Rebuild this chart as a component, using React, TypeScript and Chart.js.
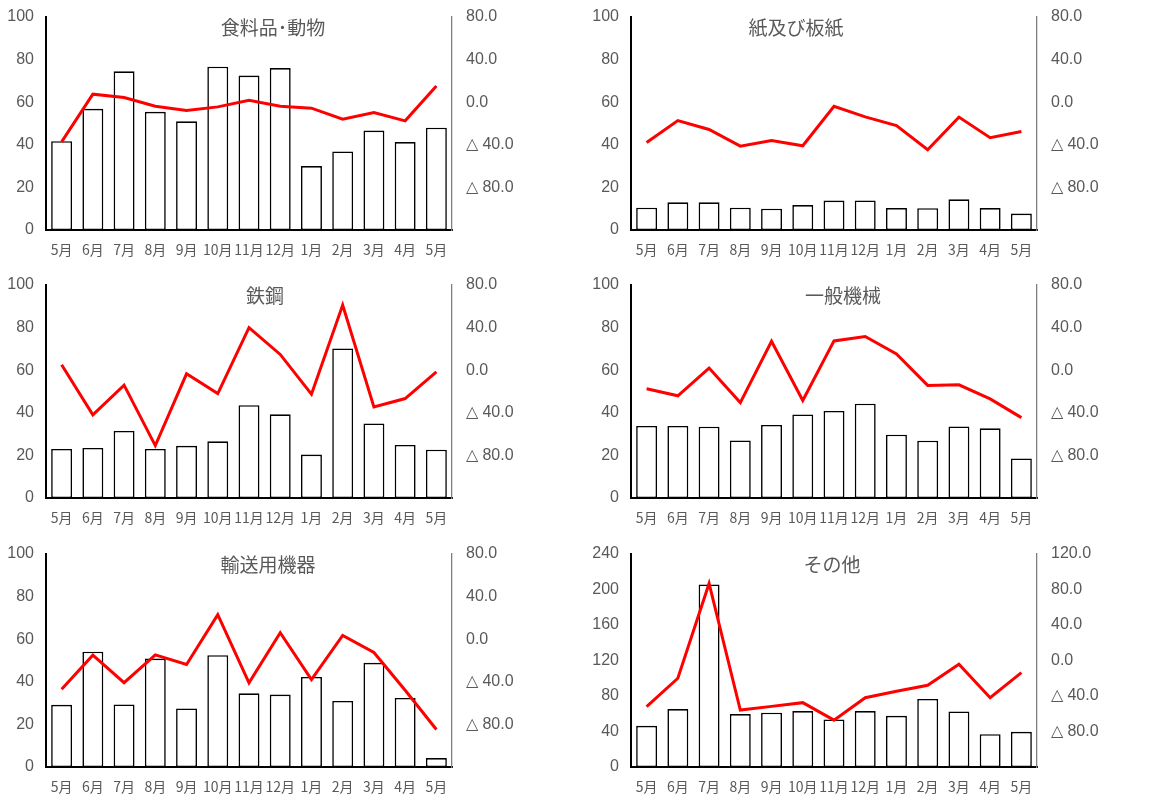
import React, { useEffect, useRef } from "react";
import { Chart, registerables } from "chart.js";

Chart.register(...registerables);

const months = ["5月", "6月", "7月", "8月", "9月", "10月", "11月", "12月", "1月", "2月", "3月", "4月", "5月"];

const foodBars = [41.7, 56.9, 74.5, 55.5, 51, 76.7, 72.5, 76, 30, 36.9, 46.7, 41.3, 48];
const foodLine = [-37.2, 7.5, 4.4, -3.8, -7.8, -4.4, 1.9, -3.8, -5.6, -16, -9.7, -17.5, 15.3];

const paperBars = [10.5, 13, 13, 10.5, 10, 11.7, 13.8, 13.9, 10.3, 10.2, 14.4, 10.3, 7.7];
const paperLine = [-37.8, -17.2, -25.6, -41.3, -35.9, -40.9, -3.8, -13.8, -21.9, -44.7, -14, -33.4, -27.5];

const steelBars = [23, 23.5, 31.5, 23, 24.5, 26.6, 43.6, 39.3, 20.4, 70.2, 35, 24.9, 22.7];
const steelLine = [5.1, -41.9, -14, -70.8, -3.4, -21.9, 39.9, 14.8, -22.5, 61.2, -34.4, -26.6, -1.5];

const machineBars = [33.8, 33.8, 33.5, 27, 34.3, 39.2, 40.9, 44.3, 29.7, 26.9, 33.6, 32.7, 18.6];
const machineLine = [-17.5, -24, 2, -30.4, 27.2, -28.5, 27.5, 31.6, 15.2, -14.3, -13.7, -26.9, -44.5];

const transportBars = [29.2, 54.1, 29.4, 50.9, 27.5, 52.5, 34.6, 34, 42.3, 31, 48.9, 32.4, 4.2];
const transportLine = [-47, -15, -40.8, -14.7, -23.8, 23.1, -41, 6.1, -37.9, 3.6, -12.5, -48, -84.8];

const otherBars = [46.4, 65.3, 205.7, 59.6, 61.1, 63, 53.6, 63, 57.7, 76.6, 62.6, 37, 39.6];
const otherLine = [-52, -20, 86.8, -55.8, -51.7, -47.5, -67.2, -41.9, -34.7, -27.9, -4.2, -41.9, -13.6];

const titles = ["食料品･動物", "紙及び板紙", "鉄鋼", "一般機械", "輸送用機器", "その他"];

type PanelDef = {
  title: string;
  bars: number[];
  line: number[];
  leftMax: number;
  leftStep: number;
  rightMax: number;
  titleX: number;
  left: number;
  top: number;
};

const panels: PanelDef[] = [
  { title: titles[0], bars: foodBars, line: foodLine, leftMax: 100, leftStep: 20, rightMax: 80, titleX: 273, left: 0, top: 0 },
  { title: titles[1], bars: paperBars, line: paperLine, leftMax: 100, leftStep: 20, rightMax: 80, titleX: 211, left: 585, top: 0 },
  { title: titles[2], bars: steelBars, line: steelLine, leftMax: 100, leftStep: 20, rightMax: 80, titleX: 265, left: 0, top: 268 },
  { title: titles[3], bars: machineBars, line: machineLine, leftMax: 100, leftStep: 20, rightMax: 80, titleX: 258, left: 585, top: 268 },
  { title: titles[4], bars: transportBars, line: transportLine, leftMax: 100, leftStep: 20, rightMax: 80, titleX: 268, left: 0, top: 537 },
  { title: titles[5], bars: otherBars, line: otherLine, leftMax: 240, leftStep: 40, rightMax: 120, titleX: 247, left: 585, top: 537 },
];

const W = 581;
const H = 261;
const GRAY = "#595959";
const NUM_FONT = "'Liberation Sans Narrow', 'Liberation Sans', Arial, sans-serif";
const CJK_FONT = "'Noto Sans CJK JP', 'Noto Sans', sans-serif";

function Panel({ def }: { def: PanelDef }) {
  const ref = useRef<HTMLCanvasElement>(null);
  useEffect(() => {
    if (!ref.current) return;
    const titlePlugin = {
      id: "panelTitle",
      afterDraw(chart: any) {
        const ctx = chart.ctx;
        ctx.save();
        ctx.font = `19px ${CJK_FONT}`;
        ctx.fillStyle = GRAY;
        ctx.textAlign = "center";
        ctx.textBaseline = "middle";
        ctx.fillText(def.title, def.titleX, chart.chartArea.top + 11);
        ctx.restore();
      },
    };
    const chart = new Chart(ref.current, {
      type: "bar",
      data: {
        labels: months,
        datasets: [
          {
            type: "line",
            data: def.line,
            yAxisID: "y1",
            borderColor: "#FF0000",
            borderWidth: 3,
            pointRadius: 0,
            tension: 0,
            fill: false,
            order: 1,
          } as any,
          {
            type: "bar",
            data: def.bars,
            yAxisID: "y",
            backgroundColor: "#FFFFFF",
            borderColor: "#000000",
            borderWidth: 1.6,
            borderSkipped: false,
            categoryPercentage: 1,
            barPercentage: 0.67,
            order: 2,
          },
        ],
      },
      options: {
        responsive: false,
        animation: false,
        events: [],
        layout: { padding: { top: 17, right: 59, left: 0, bottom: 0 } },
        plugins: { legend: { display: false }, tooltip: { enabled: false }, title: { display: false } },
        scales: {
          x: {
            offset: true,
            grid: { display: false, drawTicks: false },
            border: { display: true, color: "#000000", width: 2 },
            ticks: { color: GRAY, font: { family: CJK_FONT, size: 14 }, padding: 11, maxRotation: 0, autoSkip: false },
            afterFit: (s: any) => { s.height = 31; s.paddingLeft = 0; s.paddingRight = 0; },
          },
          y: {
            position: "left",
            min: 0,
            max: def.leftMax,
            grid: { display: false, drawTicks: false },
            border: { display: true, color: "#000000", width: 2 },
            ticks: { stepSize: def.leftStep, color: GRAY, font: { family: NUM_FONT, size: 16 }, padding: 12 },
            afterFit: (s: any) => { s.width = 46; s.paddingTop = 0; s.paddingBottom = 0; },
          },
          y1: {
            position: "right",
            min: -120,
            max: def.rightMax,
            grid: { display: false, drawTicks: false },
            border: { display: true, color: "#7F7F7F", width: 1.3 },
            ticks: {
              stepSize: 40,
              color: GRAY,
              font: { family: NUM_FONT, size: 16 },
              padding: 14,
              callback: (v: any) => {
                const n = Number(v);
                if (n <= -120) return "";
                return n < 0 ? "△ " + Math.abs(n).toFixed(1) : n.toFixed(1);
              },
            },
            afterFit: (s: any) => { s.width = 70; s.paddingTop = 0; s.paddingBottom = 0; },
          },
        },
      },
      plugins: [titlePlugin],
    });
    return () => chart.destroy();
  }, [def]);
  return (
    <canvas
      ref={ref}
      width={W}
      height={H}
      style={{ position: "absolute", left: def.left, top: def.top, width: W, height: H }}
    />
  );
}

export default function App() {
  return (
    <div style={{ position: "absolute", left: 0, top: 0, width: 1166, height: 798, background: "#FFFFFF" }}>
      {panels.map((p, i) => (
        <Panel key={i} def={p} />
      ))}
    </div>
  );
}
